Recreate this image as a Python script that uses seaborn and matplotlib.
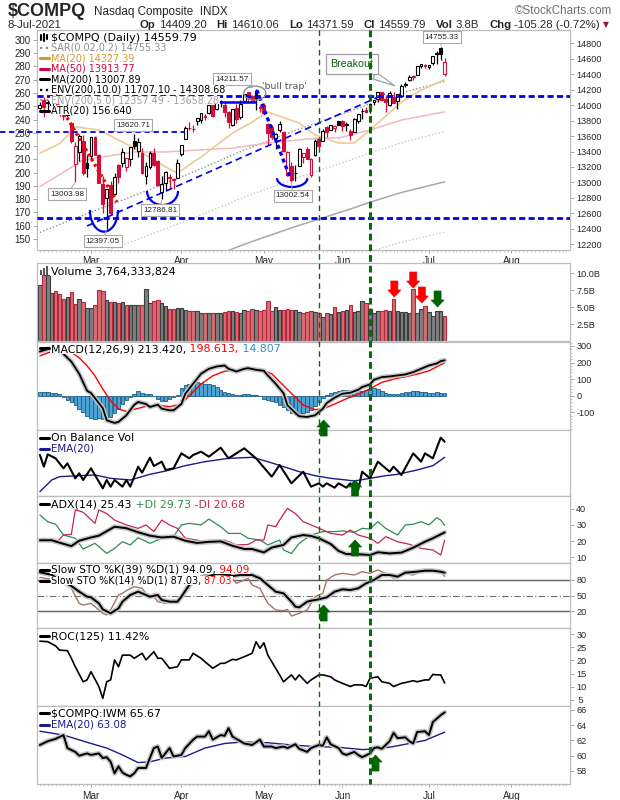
import numpy as np
import pandas as pd
import matplotlib
matplotlib.use("Agg")
import matplotlib.pyplot as plt
import seaborn as sns
import matplotlib.patheffects as pe
from matplotlib.patches import Rectangle, Arc, Ellipse, Polygon
from matplotlib.lines import Line2D
from matplotlib.ticker import MultipleLocator, NullLocator

# ------------------------------------------------------------------ data
HOLIDAYS = ["2021-02-15", "2021-04-02", "2021-05-31", "2021-07-05", "2021-09-06"]
PREV_CLOSE = 13987.64

opens = [13965, 14072, 14047, 13979, 14119, 13937, 13866, 13930, 13773, 13238, 13396, 13531, 13249,
         13339, 13591, 13350, 12975, 12800, 12970, 12854, 13230, 13248, 13200, 13304, 13537, 13403, 13383, 13080,
         13200, 13387, 13271, 12872, 12993, 13060, 13033, 13059,
         13368, 13559, 13703, 13688, 13789, 13809, 13853, 13899, 13999, 13954, 14056, 14003, 13911, 13740, 13963,
         13842, 14051, 14169, 14117, 14185, 13976,
         14005, 13762, 13715, 13579, 13680, 13654, 13096, 13208, 13118, 13217, 13323, 13433, 13093, 13349, 13565,
         13534, 13711, 13682, 13702, 13792,
         13791, 13749, 13668, 13652, 13796, 13929, 13934, 13938, 14044, 14085, 14166, 14082, 14000, 14104, 14049,
         14122, 14266, 14330, 14380, 14385, 14510, 14513,
         14499, 14544, 14673, 14735, 14409.20]
highs = [14041, 14100, 14061, 14095, 14175, 13988, 13917, 14012, 13788, 13520, 13625, 13609, 13358,
         13591, 13601, 13374, 13081, 12920, 13024, 13118, 13236, 13440, 13320, 13460, 13620.71, 13573, 13440, 13260,
         13412, 13441, 13296, 13082, 13150, 13103, 13057, 13299,
         13483, 13728, 13776, 13743, 13830, 13900, 13888, 14001, 14000, 14041, 14069, 14041, 13920, 13950, 14016,
         14072, 14138, 14171, 14136, 14211.57, 14001,
         14022, 13775, 13740, 13642, 13796, 13662, 13408, 13268, 13224, 13450, 13381, 13456, 13312, 13568, 13580,
         13685, 13726, 13748, 13748, 13799,
         13802, 13787, 13689, 13829, 13889, 13965, 13970, 14021, 14071, 14175, 14174, 14133, 14186, 14166, 14141,
         14275, 14304, 14385, 14392, 14500, 14535, 14535,
         14525, 14641, 14703, 14755.33, 14610.06]
lows = [13950, 13843, 13916, 13937, 14001, 13857, 13802, 13843, 13505, 13003.98, 13273, 13102, 13070,
        13305, 13352, 12996, 12605, 12397.05, 12591, 12836, 12991, 13206, 13144, 13207, 13430, 13330, 13111, 12980,
        13175, 13209, 12957, 12786.81, 12890, 12914, 12917, 13059,
        13339, 13559, 13676, 13648, 13740, 13770, 13813, 13889, 13846, 13938, 13973, 13851, 13704, 13728, 13774,
        13826, 14025, 14040, 14035, 13935, 13912,
        13877, 13485, 13566, 13427, 13656, 13396, 13080, 13002.54, 13015, 13212, 13251, 13303, 13074, 13338, 13459,
        13534, 13588, 13674, 13653, 13741,
        13661, 13669, 13554, 13649, 13763, 13817, 13903, 13893, 14002, 14043, 14049, 13917, 13992, 14026, 13948,
        14111, 14241, 14315, 14326, 14384, 14480, 14484,
        14465, 14524, 14526, 14587, 14371.59]
closes = [14007.70, 13972.53, 14025.77, 14095.47, 14047.50, 13965.50, 13865.36, 13874.46, 13533.05, 13465.20,
          13597.97, 13119.43, 13192.35,
          13588.83, 13358.79, 12997.75, 12723.47, 12920.15, 12609.16, 13073.82, 13068.83, 13398.67, 13319.86,
          13459.71, 13471.57, 13525.20, 13116.17, 13215.24, 13377.54, 13227.70, 12961.89, 12977.68, 13138.72,
          13059.65, 13045.39, 13246.87,
          13480.11, 13705.59, 13698.38, 13688.84, 13829.31, 13900.19, 13850.00, 13996.10, 13857.84, 14038.76,
          14052.34, 13914.77, 13786.27, 13950.22, 13818.41, 14016.81, 14138.78, 14090.22, 14051.03, 14082.55,
          13962.68,
          13895.12, 13633.50, 13582.42, 13632.84, 13752.24, 13401.86, 13389.43, 13031.68, 13124.99, 13429.98,
          13379.05, 13303.64, 13299.74, 13535.74, 13470.99, 13661.17, 13657.17, 13738.00, 13736.28, 13748.74,
          13736.48, 13756.33, 13614.51, 13814.49, 13881.72, 13924.58, 13911.75, 14020.33, 14069.42, 14174.14,
          14072.86, 14039.68, 14161.35, 14030.38, 14141.48, 14253.27, 14271.73, 14369.71, 14360.39, 14500.51,
          14528.33, 14503.95,
          14522.38, 14639.33, 14663.64, 14665.06, 14559.79]
volume_b = [8.35, 9.75, 9.75, 7.1, 7.45, 7.0, 6.25, 6.5, 7.25, 5.45, 6.25, 5.75, 4.85,
            4.85, 5.35, 7.6, 7.45, 6.1, 5.75, 5.75, 5.55, 5.75, 5.35, 5.35, 5.35, 5.4, 5.4, 7.7, 5.6, 5.9, 6.1,
            5.6, 5.2, 4.8, 4.7, 4.9,
            4.9, 4.6, 4.5, 4.4, 4.5, 4.1, 4.1, 4.1, 4.2, 4.2, 4.1, 4.3, 4.4, 4.5, 4.3, 4.2, 4.6, 4.4, 4.7, 4.6, 4.5,
            4.6, 5.9, 4.5, 5.0, 4.6, 4.6, 4.8, 4.6, 4.6, 4.3, 4.1, 4.3, 4.5, 4.3, 4.1, 3.5, 4.1, 4.0, 5.1, 4.3,
            4.5, 4.6, 5.4, 4.3, 4.4, 5.9, 5.6, 4.8, 4.2, 4.4, 4.5, 4.6, 4.5, 6.2, 4.5, 4.3, 4.3, 4.2, 7.7, 4.2,
            4.8, 5.2,
            4.3, 3.7, 4.5, 4.5, 3.76]

# moving averages / envelopes (day index, value)
ma20_k = [0, 5, 9, 15, 24, 32, 35, 41, 49, 54, 58, 66, 70, 76, 80, 84, 92, 97, 103]
ma20_v = [13380, 13500, 13721, 13678, 13445, 13200, 13122, 13329, 13638, 13781, 13911, 13768, 13614, 13510,
          13510, 13678, 14040, 14195, 14327.39]
ma50_k = [0, 11, 24, 32, 49, 58, 66, 71, 76, 84, 92, 103]
ma50_v = [12945, 13290, 13394, 13394, 13445, 13510, 13550, 13575, 13575, 13678, 13807, 13913.77]
env_k = [0, 13, 26, 39, 52, 65, 71, 78, 85, 92, 103]
ma200_v = [11230, 11470, 11700, 11940, 12200, 12430, 12525, 12640, 12760, 12870, 13007.89]
env10_up = [12353, 12617, 12870, 13134, 13420, 13673, 13778, 13904, 14036, 14157, 14308.68]
env10_lo = [10107, 10323, 10530, 10746, 10980, 11187, 11273, 11376, 11484, 11583, 11707.10]
env5_up = [11792, 12044, 12285, 12537, 12810, 13052, 13151, 13272, 13398, 13514, 13658.28]
env5_lo = [10669, 10897, 11115, 11343, 11590, 11809, 11899, 12008, 12122, 12227, 12357.49]

# MACD
macd_k = [0, 2, 4, 5, 6, 8, 10, 12, 13, 16, 17, 19, 20, 22, 24, 25, 27, 28, 30, 31, 33, 34, 36, 37, 39, 41, 43,
          45, 47, 48, 50, 52, 53, 55, 57, 58, 60, 62, 63, 65, 66, 68, 70, 72, 73, 75, 77, 79, 81, 82, 84, 85,
          87, 89, 91, 93, 95, 97, 99, 101, 102, 103]
macd_v = [266, 281, 294, 290, 252, 205, 132, 30, 16, -75, -148, -164, -158, -118, -55, -38, -50, -68, -54, -78,
          -88, -88, -50, 12, 72, 132, 162, 176, 182, 162, 146, 162, 166, 156, 150, 122, 72, 15, -58, -104, -124,
          -128, -118, -78, -44, -12, 12, 18, 36, 52, 68, 96, 112, 116, 122, 128, 142, 162, 182, 194, 208, 213.42]
signal_k = [0, 2, 4, 6, 8, 10, 12, 14, 16, 18, 20, 22, 24, 27, 30, 33, 36, 38, 41, 44, 47, 50, 53, 56, 59, 61,
            64, 67, 70, 72, 75, 78, 81, 84, 87, 90, 93, 96, 99, 103]
signal_v = [240, 258, 274, 278, 262, 228, 180, 120, 40, -30, -80, -95, -82, -64, -58, -66, -50, 0, 70, 120, 148,
            152, 156, 156, 132, 84, 14, -56, -84, -80, -50, -18, 8, 42, 80, 100, 114, 130, 150, 198.613]
macd_hist = [24, 24, 22, 18, 14, 10, -10, -24, -36, -58,
             -78, -96, -120, -136, -140, -134, -140, -148, -126, -104,
             -80, -50, -28, -10, 12, 28, 14, 10, 12, -4,
             -20, -30, -32, -20, -8, 6, 46, 64, 72, 80,
             80, 76, 72, 70, 62, 52, 36, 20, 14, 10,
             6, 6, 12, 10, 4, 6, 0, -20, -28, -32,
             -40, -56, -70, -84, -106, -112, -112, -106, -96, -84,
             -62, -40, -16, 6, 16, 22, 28, 32, 34, 32,
             30, 28, 30, 32, 34, 44, 40, 30, 16, 12,
             10, 12, 16, 20, 24, 26, 26, 24, 20, 16,
             18, 20, 16, 14.807]

# On Balance Volume (relative units) and its EMA(20)
obv_k = [0, 1, 2, 4, 6, 7, 9, 10, 11, 13, 14, 16, 17, 18, 19, 21, 22, 23, 25, 26, 28, 29, 31, 32, 34, 36, 38,
         39, 41, 43, 46, 48, 52, 55, 59, 61, 64, 67, 69, 71, 72, 73, 75, 76, 78, 79, 81, 82, 84, 86, 89, 90, 92,
         95, 97, 98, 100, 102, 103]
obv_v = [130, 95, 132, 120, 90, 105, 60, 75, 55, 90, 70, 30, 55, 35, 55, 35, 55, 35, 95, 77, 122, 97, 110, 85,
         90, 135, 120, 130, 140, 125, 152, 120, 150, 120, 65, 100, 45, 80, 35, 45, 35, 45, 32, 45, 32, 45, 25,
         80, 60, 110, 80, 95, 70, 135, 110, 135, 120, 182, 170]
obv_ema_k = [0, 3, 5, 10, 14, 18, 23, 28, 32, 37, 42, 48, 54, 58, 62, 66, 70, 74, 78, 80, 84, 88, 91, 96, 100, 103]
obv_ema_v = [20, 55, 65, 68, 70, 60, 55, 72, 82, 98, 110, 120, 123, 110, 95, 80, 68, 60, 55, 52, 60, 68, 72, 85,
             98, 123]

# ADX(14)
adx_k = [0, 3, 5, 8, 10, 13, 15, 19, 22, 25, 28, 31, 34, 37, 40, 43, 46, 49, 52, 54, 57, 59, 62, 64, 67, 69,
         71, 74, 76, 78, 81, 84, 86, 89, 92, 95, 98, 100, 103]
adx_v = [20.6, 20.6, 19.1, 17.0, 20.3, 22.3, 23.4, 28.9, 28.0, 25.5, 23.4, 22.3, 22.8, 20.3, 18.9, 19.6, 19.9,
         17.2, 15.2, 15.2, 13.1, 16.1, 17.7, 22.3, 23.8, 23.2, 21.8, 18.3, 14.0, 12.1, 12.0, 11.5, 13.2, 12.5,
         13.0, 16.0, 19.7, 21.8, 25.43]
pdi_k = [0, 2, 4, 6, 9, 11, 14, 17, 19, 21, 23, 25, 28, 31, 34, 36, 38, 41, 43, 46, 48, 51, 53, 56, 58, 61, 62,
         64, 66, 69, 72, 75, 77, 80, 82, 84, 86, 88, 91, 93, 95, 97, 99, 101, 102, 103]
pdi_v = [36.1, 32.0, 30.4, 23.8, 21.8, 15.2, 18.7, 12.5, 15.6, 19.7, 17.7, 22.2, 18.7, 21.8, 22.8, 30.0, 31.0,
         30.0, 33.6, 28.9, 24.8, 24.8, 21.8, 20.7, 17.7, 20.7, 14.6, 12.5, 18.7, 23.8, 25.9, 25.9, 26.3, 25.5,
         27.9, 27.5, 32.0, 27.9, 23.8, 30.0, 30.4, 32.0, 30.0, 34.5, 33.0, 29.73]
mdi_k = [0, 1, 4, 6, 8, 9, 10, 11, 14, 15, 17, 19, 22, 25, 27, 29, 31, 33, 35, 37, 40, 43, 45, 47, 50, 53, 55,
         57, 58, 60, 61, 63, 65, 67, 69, 72, 74, 77, 79, 81, 84, 86, 88, 89, 91, 94, 97, 100, 102, 103]
mdi_v = [20.7, 21.8, 18.7, 23.8, 24.2, 39.2, 38.6, 37.8, 31.0, 39.2, 37.0, 33.0, 30.0, 27.9, 30.0, 25.9, 33.0,
         30.0, 27.9, 21.8, 20.7, 18.7, 19.7, 20.7, 17.7, 18.0, 20.7, 20.7, 30.0, 28.9, 33.0, 40.2, 37.0, 32.0,
         30.0, 26.9, 24.8, 23.8, 26.9, 23.8, 21.8, 18.7, 22.8, 21.8, 19.7, 18.1, 15.6, 14.6, 11.5, 20.68]

# Slow stochastics
sto39_k = [0, 3, 5, 8, 10, 12, 13, 15, 16, 18, 20, 21, 23, 25, 26, 28, 30, 31, 33, 35, 36, 38, 39, 42, 45, 48,
           49, 51, 54, 56, 58, 60, 62, 64, 65, 66, 68, 69, 71, 73, 75, 77, 79, 81, 83, 85, 87, 89, 91, 93, 96,
           98, 100, 102, 103]
sto39_v = [95, 90, 80, 68.4, 57.4, 47.7, 46.5, 34.8, 23.2, 15.5, 25.2, 38.0, 51.0, 57.4, 54.2, 47.7, 51.0, 41.3,
           38.0, 38.0, 47.7, 70.3, 76.8, 85.0, 92.0, 89.7, 87.7, 89.7, 89.7, 83.2, 70.3, 57.4, 54.2, 38.0, 28.4,
           27.0, 38.0, 40.0, 42.6, 46.5, 57.4, 62.0, 60.6, 63.9, 73.5, 80.0, 89.7, 89.7, 86.5, 94.2, 96.1, 98.0,
           98.0, 96.0, 94.09]
sto14_k = [0, 4, 6, 8, 10, 11, 13, 14, 16, 17, 18, 20, 21, 22, 24, 26, 27, 29, 30, 32, 33, 35, 37, 38, 40, 44,
           48, 50, 53, 54, 56, 58, 60, 62, 63, 64, 66, 68, 70, 72, 73, 75, 77, 80, 82, 84, 86, 89, 90, 92, 95,
           97, 100, 102, 103]
sto14_v = [85, 80, 75, 63.9, 34.8, 31.6, 34.8, 28.4, 15.5, 12.3, 21.9, 51.0, 54.2, 59.4, 67.1, 63.9, 54.2, 47.7,
           38.0, 34.8, 38.0, 41.3, 54.2, 63.9, 85.0, 95.0, 92.9, 73.5, 83.2, 70.3, 63.9, 34.8, 21.9, 20.6, 23.2,
           10.3, 15.5, 21.9, 47.7, 54.2, 80.0, 89.7, 92.9, 89.7, 96.1, 92.9, 99.4, 89.7, 83.2, 92.9, 89.7, 96.1,
           96.1, 96.1, 87.03]

# ROC(125)
roc_k = [0, 2, 4, 5, 7, 8, 9, 11, 12, 13, 15, 16, 17, 18, 19, 20, 21, 23, 24, 26, 27, 29, 30, 31, 33, 35, 36,
         38, 39, 41, 42, 44, 46, 47, 49, 50, 52, 54, 55, 56, 57, 58, 60, 61, 62, 64, 65, 66, 68, 69, 71, 72, 74,
         75, 77, 79, 80, 82, 83, 84, 86, 87, 89, 90, 92, 93, 95, 96, 98, 99, 100, 101, 102, 103]
roc_v = [27.3, 27.1, 25.5, 23.9, 23.7, 20.8, 17.6, 11.9, 12.6, 15.7, 10.1, 5.6, 11.9, 12.6, 20.2, 17.6, 22.0,
         22.0, 20.8, 22.7, 20.2, 23.3, 20.8, 20.8, 17.0, 17.6, 20.2, 20.2, 22.7, 20.8, 19.5, 17.0, 18.9, 18.9,
         20.4, 20.2, 21.4, 22.7, 27.1, 24.6, 26.7, 22.0, 17.0, 14.5, 11.9, 14.5, 12.6, 14.5, 11.3, 12.6, 14.5,
         14.5, 13.8, 12.6, 11.3, 10.1, 10.7, 10.7, 10.1, 13.2, 13.8, 11.9, 11.3, 10.1, 11.3, 11.6, 12.3, 11.9,
         12.6, 12.6, 14.7, 14.5, 14.5, 11.42]

# $COMPQ:IWM ratio and EMA(20)
ratio_k = [0, 2, 4, 6, 7, 9, 10, 12, 13, 15, 16, 17, 18, 19, 20, 21, 22, 23, 24, 25, 26, 27, 29, 30, 31, 33, 34,
           36, 37, 39, 40, 42, 43, 44, 46, 47, 48, 49, 51, 52, 54, 56, 57, 59, 60, 62, 63, 65, 66, 68, 69, 71,
           72, 73, 74, 76, 77, 78, 80, 81, 82, 84, 85, 86, 87, 89, 90, 91, 93, 94, 95, 96, 98, 99, 100, 102, 103]
ratio_v = [61.4, 61.9, 62.2, 62.7, 61.0, 60.5, 60.0, 60.3, 60.1, 60.3, 59.7, 59.8, 59.2, 57.7, 58.6, 57.8, 57.5,
           57.3, 57.7, 58.4, 58.4, 58.4, 61.0, 61.2, 59.7, 61.0, 59.9, 60.1, 61.0, 62.1, 62.5, 62.5, 63.2, 62.1,
           62.7, 62.6, 63.6, 62.5, 61.9, 61.6, 61.4, 62.1, 61.2, 61.2, 61.0, 61.2, 61.0, 61.5, 60.9, 60.5, 61.0,
           61.4, 61.3, 62.4, 61.5, 61.0, 60.3, 60.1, 60.5, 60.1, 59.8, 60.3, 61.0, 61.1, 60.9, 61.9, 63.0, 62.3,
           62.4, 61.9, 61.6, 63.1, 63.2, 62.7, 64.4, 65.3, 65.67]
ratio_ema_k = [0, 6, 13, 17, 21, 25, 28, 32, 37, 42, 47, 52, 58, 64, 70, 76, 82, 86, 90, 94, 98, 103]
ratio_ema_v = [63.2, 62.7, 61.6, 61.0, 60.1, 59.1, 59.2, 59.7, 59.9, 61.0, 61.6, 61.8, 61.7, 61.4, 61.2, 61.1,
               60.8, 60.9, 61.2, 61.6, 62.0, 63.08]

# annotations on the price panel: (text, day index, price, target day, target price)
price_labels = [("13003.98", 6.9, 12850, 9, 13003.98),
                ("12397.05", 16.0, 12242, 17, 12397.05),
                ("13620.71", 23.7, 13743, 24, 13620.71),
                ("12786.81", 30.6, 12643, 31, 12786.81),
                ("13002.54", 64.4, 12825, 64, 13002.54),
                ("14211.57", 48.9, 14338, 54.5, 14215),
                ("14755.33", 102.3, 14881, 102, 14755.33)]
hlines_full = [14120, 12540]
hline_left = (13650, 37)            # price, end day
resist_seg = (41.2, 54.7, 14045)    # start, end, price
trend_up = [(12, 12437), (87.8, 14143)]
trend_down = [(55.2, 14195), (63.6, 13070)]
red_trend = [(3.8, 14105), (19.6, 12747)]
arcs = [(16.3, 12643, 7.15, 560), (31.2, 12890, 7.9, 364), (64.2, 13055, 7.7, 228)]
peak_ellipse = (54.7, 14156, 5.6, 181)
vlines_days = [71, 84]
# arrows: (day, tip y pixel, direction, colour)
arrow_marks = [(72.2, 420, "up", "#006400"), (80.2, 480, "up", "#006400"), (80.2, 540, "up", "#006400"),
               (72.2, 605, "up", "#006400"), (85.4, 755, "up", "#006400"),
               (90.2, 297, "down", "#FF0000"), (95.0, 288, "down", "#FF0000"), (97.2, 303, "down", "#FF0000"),
               (101.2, 307, "down", "#006400")]
header_groups = [("Op", "14409.20"), ("Hi", "14610.06"), ("Lo", "14371.59"), ("Cl", "14559.79"),
                 ("Vol", "3.8B"), ("Chg", "-105.28 (-0.72%)")]

# ------------------------------------------------------------------ setup
sns.set_theme(style="white")
plt.rcParams['font.family'] = ['DejaVu Sans']
plt.rcParams['axes.linewidth'] = 0.8

W, H = 620, 800
fig = plt.figure(figsize=(6.2, 8.0), dpi=100)
fig.patch.set_facecolor("white")
L, R = 37, 570
XMIN, XMAX = -0.74, 134.9
RED = "#D0103A"
NAVY = "#1A1A8C"
SPINE = "#BDBDBD"
TICKFONT = ['Liberation Sans', 'DejaVu Sans']
TFS = 6.6

def rect(top, bottom):
    return [L / W, 1 - bottom / H, (R - L) / W, (bottom - top) / H]

def add_ax(top, bottom):
    ax = fig.add_axes(rect(top, bottom))
    ax.set_xlim(XMIN, XMAX)
    ax.set_facecolor("white")
    for s in ax.spines.values():
        s.set_color(SPINE)
        s.set_linewidth(0.9)
    ax.grid(False)
    ax.xaxis.set_major_locator(NullLocator())
    ax.xaxis.set_minor_locator(NullLocator())
    ax.yaxis.tick_right()
    ax.tick_params(axis="y", which="major", direction="out", length=3, width=0.6, color="#999999",
                   labelsize=TFS, pad=1.5, right=True, left=False, labelright=True, labelleft=False)
    return ax

def set_yticks(ax, ticks, labels=None):
    ax.set_yticks(ticks)
    ax.set_yticklabels(labels if labels is not None else [str(t) for t in ticks], family=TICKFONT,
                       fontsize=TFS)

x = np.arange(len(closes))
o = np.array(opens, float); h = np.array(highs, float); l = np.array(lows, float); c = np.array(closes, float)
pc = np.concatenate([[PREV_CLOSE], c[:-1]])
up = c >= pc

cal = pd.bdate_range("2021-02-09", "2021-09-30", freq="C", holidays=HOLIDAYS)
month_idx, month_lab = [], []
for m, name in [(3, "Mar"), (4, "Apr"), (5, "May"), (6, "Jun"), (7, "Jul"), (8, "Aug")]:
    month_idx.append(int(np.where(cal.month == m)[0][0]))
    month_lab.append(name)

def month_axis(ax, pad):
    ax.set_xticks(month_idx)
    ax.set_xticklabels(month_lab, family=TICKFONT, fontsize=7.2)
    ax.xaxis.set_minor_locator(MultipleLocator(1))
    ax.tick_params(axis="x", which="major", direction="out", length=2.5, width=0.6, color="#999999",
                   pad=pad, bottom=True)
    ax.tick_params(axis="x", which="minor", direction="out", length=1.5, width=0.4, color="#AAAAAA",
                   bottom=True)

def line(ax, xs, ys, color, lw=1.0, halo=False, **kw):
    pe_ = [pe.Stroke(linewidth=lw + 2.2, foreground="#C4C4C4"), pe.Normal()] if halo else None
    sns.lineplot(x=np.array(xs, float), y=np.array(ys, float), ax=ax, color=color, linewidth=lw,
                 estimator=None, sort=False, legend=False, path_effects=pe_, **kw)

# ------------------------------------------------------------------ price panel
ax = add_ax(30, 250)
ax.set_ylim(12126, 14972)
set_yticks(ax, list(range(12200, 14801, 200)))
month_axis(ax, 1.5)

line(ax, env_k, env5_lo, "#C8C8C8", 1.0, linestyle=(0, (1, 1.5)), zorder=1)
line(ax, env_k, env5_up, "#C8C8C8", 1.0, linestyle=(0, (1, 1.5)), zorder=1)
line(ax, env_k, env10_lo, "#909090", 1.0, linestyle=(0, (1, 1.5)), zorder=1)
line(ax, env_k, env10_up, "#909090", 1.0, linestyle=(0, (1, 1.5)), zorder=1)
line(ax, env_k, ma200_v, "#A8A8A8", 1.1, zorder=1)
line(ax, ma50_k, ma50_v, "#F2B8BE", 1.1, zorder=1)
line(ax, ma20_k, ma20_v, "#EBCB97", 1.2, zorder=1)

col = np.where(up, "#000000", RED)
ax.vlines(x, l, h, colors=col, lw=0.9, zorder=3)
for xi, oi, ci, cc in zip(x, o, c, col):
    lo_, hi_ = min(oi, ci), max(oi, ci)
    ax.add_patch(Rectangle((xi - 0.36, lo_), 0.72, max(hi_ - lo_, 5), fc="white" if ci > oi else cc,
                           ec=cc, lw=0.8, zorder=3.5))

BLUE = "#0000EE"
for p in hlines_full:
    ax.axhline(p, color=BLUE, lw=2.0, dashes=(2.2, 1.2), zorder=4)
xl0 = XMIN - L / 3.93
ax.plot([xl0, hline_left[1]], [hline_left[0]] * 2, color=BLUE, lw=1.3, dashes=(3, 2), zorder=4,
        clip_on=False)
ax.plot([resist_seg[0], resist_seg[1]], [resist_seg[2]] * 2, color=BLUE, lw=1.8, zorder=4)
ax.plot(*zip(*trend_up), color=BLUE, lw=1.2, dashes=(4, 2.5), zorder=4)
ax.plot(*zip(*trend_down), color=BLUE, lw=2.4, dashes=(1.2, 1.0), zorder=4)
ax.plot(*zip(*red_trend), color="#FF0000", lw=2.4, dashes=(0.8, 1.0), zorder=4)
for cx, cy, w_, h_ in arcs:
    ax.add_patch(Arc((cx, cy), w_, h_, theta1=180, theta2=360, color=BLUE, lw=1.6, zorder=4))
ex, ey, ew, eh = peak_ellipse
ax.add_patch(Ellipse((ex, ey), ew, eh, fill=False, ec="#8C8C8C", lw=1.0, zorder=4))

for txt, lx, ly, tx, ty in price_labels:
    ax.annotate(txt, xy=(tx, ty), xytext=(lx, ly), ha="center", va="center", fontsize=5.9,
                family=TICKFONT, zorder=6,
                bbox=dict(boxstyle="square,pad=0.25", fc="white", ec="#A8A8A8", lw=0.8),
                arrowprops=dict(arrowstyle="-", color="#A8A8A8", lw=0.7, shrinkA=0, shrinkB=1))
ax.text(56.5, 14235, "'bull trap'", fontsize=6.8, color="#555555", ha="left", va="center", zorder=6)
ax.annotate("Breakout", xy=(90.9, 14234), xytext=(79.4, 14532), ha="center", va="center", fontsize=7.7,
            family=TICKFONT, color="#006400", zorder=6,
            bbox=dict(boxstyle="square,pad=0.45", fc="white", ec="#A0A0A0", lw=0.9),
            arrowprops=dict(arrowstyle="wedge,tail_width=0.7,shrink_factor=0.5", fc="white",
                            ec="#A0A0A0", lw=0.9))
ax_main = ax

# left-hand (ATR) scale of the price panel, a separate transparent axes
ax_atr = fig.add_axes(rect(30, 250), label="atr")
ax_atr.set_ylim(141.7, 307.5)
ax_atr.set_xlim(XMIN, XMAX)
ax_atr.patch.set_visible(False)
for s in ax_atr.spines.values():
    s.set_visible(False)
ax_atr.grid(False)
ax_atr.set_xticks([])
ax_atr.yaxis.tick_left()
ax_atr.set_yticks(list(range(150, 301, 10)))
ax_atr.set_yticklabels([str(v) for v in range(150, 301, 10)], family=TICKFONT, fontsize=7)
ax_atr.tick_params(axis="y", direction="out", length=3, width=0.6, color="#999999", pad=1.5,
                   left=True, right=False, labelleft=True, labelright=False)

# ------------------------------------------------------------------ volume
ax = add_ax(263, 341)
ax.set_ylim(0, 11.54)
set_yticks(ax, [2.5, 5.0, 7.5, 10.0], ["2.5B", "5.0B", "7.5B", "10.0B"])
ax.bar(x, volume_b, width=0.9, color=np.where(up, "#808080", "#D66D76"),
       edgecolor=np.where(up, "#3C3C3C", "#B8283C"), linewidth=0.8, zorder=2)

# ------------------------------------------------------------------ MACD
ax = add_ax(342, 430)
ax.set_ylim(-206.6, 323.5)
set_yticks(ax, [-100, 0, 100, 200, 300])
ax.yaxis.set_minor_locator(MultipleLocator(20))
ax.tick_params(axis="y", which="minor", direction="out", length=1.5, width=0.5, color="#AAAAAA", right=True)
ax.bar(x, macd_hist, width=0.9, color="#4FA3D3", edgecolor="#1B5C84", linewidth=0.6, zorder=2)
line(ax, signal_k, signal_v, "#FF0000", 1.0, zorder=3)
line(ax, macd_k, macd_v, "#000000", 1.3, halo=True, zorder=4)

# ------------------------------------------------------------------ OBV
ax = add_ax(430, 496)
ax.set_ylim(7, 205)
ax.set_yticks([])
line(ax, obv_ema_k, obv_ema_v, NAVY, 1.0, zorder=2)
line(ax, obv_k, obv_v, "#000000", 1.5, zorder=3)

# ------------------------------------------------------------------ ADX
ax = add_ax(496, 563)
ax.set_ylim(6.6, 47.8)
set_yticks(ax, [10, 20, 30, 40])
line(ax, pdi_k, pdi_v, "#2E8B57", 0.9, zorder=2)
line(ax, mdi_k, mdi_v, "#C0284A", 0.9, zorder=2)
line(ax, adx_k, adx_v, "#000000", 1.4, halo=True, zorder=3)

# ------------------------------------------------------------------ Slow STO
ax = add_ax(563, 628)
ax.set_ylim(-12.9, 112.9)
set_yticks(ax, [20, 50, 80])
ax.axhline(80, color="#606060", lw=1.0, zorder=1)
ax.axhline(20, color="#606060", lw=1.0, zorder=1)
ax.axhline(50, color="#707070", lw=0.8, dashes=(6, 2, 1, 2), zorder=1)
line(ax, sto14_k, sto14_v, "#A6746C", 1.0, zorder=2)
line(ax, sto39_k, sto39_v, "#000000", 1.4, halo=True, zorder=3)

# ------------------------------------------------------------------ ROC
ax = add_ax(628, 706)
ax.set_ylim(2.7, 32.3)
set_yticks(ax, [5, 10, 15, 20, 25, 30], [" 5", "10", "15", "20", "25", "30"])
line(ax, roc_k, roc_v, "#000000", 1.2, zorder=3)

# ------------------------------------------------------------------ ratio
ax = add_ax(706, 784)
ax.set_ylim(56.3, 66.5)
set_yticks(ax, [58, 60, 62, 64, 66])
month_axis(ax, 2.5)
line(ax, ratio_ema_k, ratio_ema_v, NAVY, 1.0, zorder=2)
line(ax, ratio_k, ratio_v, "#000000", 1.4, halo=True, zorder=3)

# ------------------------------------------------------------------ figure-level overlays
def kx(k):
    d = ax_main.transData.transform((k, 13000))
    return fig.transFigure.inverted().transform(d)[0] * W

def fy(ypx):
    return 1 - ypx / H

for k, lw, dsh in [(vlines_days[0], 1.0, (4, 3)), (vlines_days[1], 2.2, (2.2, 1.3))]:
    xp = kx(k) / W
    fig.add_artist(Line2D([xp, xp], [fy(30), fy(784)], color="#007000", lw=lw, dashes=dsh, zorder=8))

def block_arrow(k, ytip, direction, color, length=16, head_h=7, head_w=13, shaft_w=7):
    xp = kx(k)
    s = 1 if direction == "up" else -1
    pts = [(xp, ytip), (xp + head_w / 2, ytip + s * head_h), (xp + shaft_w / 2, ytip + s * head_h),
           (xp + shaft_w / 2, ytip + s * length), (xp - shaft_w / 2, ytip + s * length),
           (xp - shaft_w / 2, ytip + s * head_h), (xp - head_w / 2, ytip + s * head_h)]
    fig.add_artist(Polygon([(px / W, fy(py)) for px, py in pts], closed=True, transform=fig.transFigure,
                           fc=color, ec=color, lw=0.5, zorder=9))

for k, yt, d, cc in arrow_marks:
    block_arrow(k, yt, d, cc)

renderer = fig.canvas.get_renderer()

def text_w(t):
    return t.get_window_extent(renderer=renderer).width * W / fig.bbox.width

def legend(ypx, parts, fs=7.9, xtext=51, marker=None):
    if marker is not None:
        mc, mls = marker
        fig.add_artist(Line2D([40 / W, 49 / W], [fy(ypx)] * 2, color=mc, lw=2.2 if mls == "-" else 1.6,
                              linestyle=mls, zorder=10))
    xcur = xtext
    for s_, cc in parts:
        t = fig.text(xcur / W, fy(ypx + fs * 0.45), s_, color=cc, fontsize=fs, va="baseline", ha="left",
                     zorder=10)
        xcur += text_w(t)
    hpx = fs * 1.3
    fig.add_artist(Rectangle(((xtext - 1) / W, fy(ypx + hpx / 2)), (xcur - xtext + 2) / W, hpx / H,
                             transform=fig.transFigure, fc="white", ec="none", zorder=9.5))

# price legend
legend(37, [("$COMPQ (Daily) 14559.79", "#000000")], fs=8)
for dx, hh in [(41, 5), (44, 7), (47, 4)]:
    fig.add_artist(Line2D([dx / W] * 2, [fy(37 - hh / 2), fy(37 + hh / 2)], color="#000000", lw=1.5, zorder=10))
SUB = 6.9
legend(47.5, [("SAR(0.02,0.2) 14755.33", "#8C8C8C")], fs=SUB, marker=("#8C8C8C", ":"))
legend(58, [("MA(20) 14327.39", "#D39A2E")], fs=SUB, marker=("#D39A2E", "-"))
legend(68.5, [("MA(50) 13913.77", "#D2003A")], fs=SUB, marker=("#D2003A", "-"))
legend(79, [("MA(200) 13007.89", "#000000")], fs=SUB, marker=("#000000", "-"))
legend(89.5, [("ENV(200,10.0) 11707.10 - 14308.68", "#000000")], fs=SUB, marker=("#000000", ":"))
legend(100, [("ENV(200,5.0) 12357.49 - 13658.28", "#A0A0A0")], fs=SUB, marker=("#A0A0A0", ":"))
legend(110.5, [("ATR(20) 156.640", "#000000")], fs=SUB, marker=("#000000", "-"))

# volume legend
for dx, hh in [(41, 5), (44, 7), (47, 9)]:
    fig.add_artist(Rectangle(((dx - 1) / W, fy(275)), 2 / W, hh / H, transform=fig.transFigure,
                             fc="#555555", ec="none", zorder=10))
legend(271, [("Volume 3,764,333,824", "#000000")])
legend(348.5, [("MACD(12,26,9) 213.420,", "#000000"), (" 198.613,", "#FF0000"), (" 14.807", "#3C8DC0")],
       marker=("#000000", "-"))
legend(437.5, [("On Balance Vol", "#000000")], marker=("#000000", "-"))
legend(448.5, [("EMA(20)", NAVY)], fs=7.4, marker=(NAVY, "-"))
legend(504, [("ADX(14) 25.43", "#000000"), (" +DI 29.73", "#2E8B57"), (" -DI 20.68", "#C0284A")],
       marker=("#000000", "-"))
legend(569.5, [("Slow STO %K(39) %D(1) 94.09,", "#000000"), (" 94.09", "#FF0000")], fs=7.6,
       marker=("#000000", "-"))
legend(580.5, [("Slow STO %K(14) %D(1) 87.03,", "#000000"), (" 87.03", "#FF0000")], fs=6.9,
       marker=("#000000", "-"))
legend(636, [("ROC(125) 11.42%", "#000000")], marker=("#000000", "-"))
legend(713, [("$COMPQ:IWM 65.67", "#000000")], marker=("#000000", "-"))
legend(724.5, [("EMA(20) 63.08", NAVY)], fs=7.4, marker=(NAVY, "-"))

# header
HFONT = ['Liberation Sans', 'DejaVu Sans']
fig.text(8 / W, fy(11.5), "$COMPQ", fontsize=13, fontweight="bold", family=HFONT, va="center", ha="left")
fig.text(94 / W, fy(12.5), "Nasdaq Composite  INDX", fontsize=8.4, family=HFONT, va="center", ha="left")
fig.text(612 / W, fy(11.5), "\u00a9StockCharts.com", fontsize=8.4, color="#707070", family=HFONT,
         va="center", ha="right")
fig.text(8 / W, fy(25), "8-Jul-2021", fontsize=8.2, family=HFONT, va="center", ha="left")
HS = 8.2
pieces = []
for lab, val in header_groups:
    tl = fig.text(0, fy(25), lab, fontsize=HS, fontweight="bold", family=HFONT, va="center", ha="left")
    tv = fig.text(0, fy(25), val, fontsize=HS, family=HFONT, va="center", ha="left")
    pieces.append((tl, tv))
inner = 3.0
total = sum(text_w(a) + inner + text_w(b) for a, b in pieces)
gap = (600 - 140 - total) / (len(pieces) - 1)
xc = 140.0
for tl, tv in pieces:
    tl.set_x(xc / W)
    xc += text_w(tl) + inner
    tv.set_x(xc / W)
    xc += text_w(tv) + gap
fig.text(606 / W, fy(25), "\u25bc", fontsize=5.5, color="#A0102A", va="center", ha="center")

fig.savefig("out.png", dpi=100, facecolor="white")
